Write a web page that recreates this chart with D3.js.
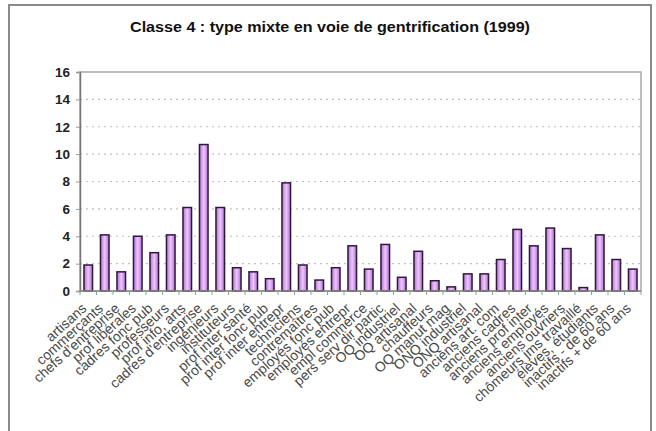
<!DOCTYPE html>
<html>
<head>
<meta charset="utf-8">
<script src="https://cdn.jsdelivr.net/npm/d3@7"></script>
<style>
  html, body { margin: 0; padding: 0; background: #fff; }
  svg { display: block; font-family: "Liberation Sans", Arial, sans-serif; }
</style>
</head>
<body>
<svg id="chart" width="656" height="431"></svg>
<script>
const title = "Classe 4 : type mixte en voie de gentrification (1999)";
const categories = [
  "artisans", "commerçants", "chefs d'entreprise", "prof libérales", "cadres fonc pub",
  "professeurs", "prof info, arts", "cadres d'entreprise", "ingénieurs", "instituteurs",
  "prof inter santé", "prof inter fonc pub", "prof inter entrepr", "techniciens", "contremaîtres",
  "employés fonc pub", "employés entrepr", "empl commerce", "pers serv dir partic", "OQ industriel",
  "OQ artisanal", "chauffeurs", "OQ manut mag", "ONQ industriel", "ONQ artisanal",
  "anciens art. com", "anciens cadres", "anciens prof inter", "anciens employés", "anciens ouvriers",
  "chômeurs jms travaillé", "élèves, étudiants", "inactifs - de 60 ans", "inactifs + de 60 ans"
];
const values = [
  1.9, 4.1, 1.4, 4.0, 2.8,
  4.1, 6.1, 10.7, 6.1, 1.7,
  1.4, 0.9, 7.9, 1.9, 0.8,
  1.7, 3.3, 1.6, 3.4, 1.0,
  2.9, 0.75, 0.3, 1.25, 1.25,
  2.3, 4.5, 3.3, 4.6, 3.1,
  0.25, 4.1, 2.3, 1.6
];
const yTicks = [0, 2, 4, 6, 8, 10, 12, 14, 16];

const svg = d3.select("#chart");
const plot = { left: 80, top: 72, right: 641, bottom: 291 };

// outer frame
svg.append("rect").attr("x", 9).attr("y", 5).attr("width", 642).attr("height", 440)
  .attr("fill", "#fff").attr("stroke", "#8a8a8a").attr("stroke-width", 2);

// gradient for bars
const defs = svg.append("defs");
const grad = defs.append("linearGradient").attr("id", "barGrad")
  .attr("x1", "0%").attr("x2", "100%").attr("y1", "0%").attr("y2", "0%");
grad.append("stop").attr("offset", "0%").attr("stop-color", "#b070d4");
grad.append("stop").attr("offset", "50%").attr("stop-color", "#efc6ff");
grad.append("stop").attr("offset", "100%").attr("stop-color", "#b070d4");

// title
svg.append("text").attr("x", 330).attr("y", 32).attr("text-anchor", "middle")
  .attr("font-size", 14).attr("font-weight", "bold").attr("fill", "#111")
  .attr("textLength", 400).attr("lengthAdjust", "spacingAndGlyphs")
  .text(title);

const x = d3.scaleBand().domain(categories).range([plot.left, plot.right])
  .paddingInner(0.48).paddingOuter(0.24);
const y = d3.scaleLinear().domain([0, 16]).range([plot.bottom, plot.top]);

// plot border (top/right)
svg.append("rect").attr("x", plot.left).attr("y", plot.top)
  .attr("width", plot.right - plot.left).attr("height", plot.bottom - plot.top)
  .attr("fill", "none").attr("stroke", "#a8a8a8").attr("stroke-width", 1.5);

// gridlines
svg.append("g").selectAll("line").data(yTicks.filter(d => d > 0 && d < 16)).join("line")
  .attr("x1", plot.left).attr("x2", plot.right)
  .attr("y1", d => y(d)).attr("y2", d => y(d))
  .attr("stroke", "#c0c0c0").attr("stroke-width", 1.2).attr("stroke-dasharray", "2,4");

// y axis
const yAxis = d3.axisLeft(y).tickValues(yTicks).tickSize(4).tickPadding(6).tickFormat(d3.format("d"));
const gy = svg.append("g").attr("transform", `translate(${plot.left},0)`).call(yAxis);
gy.select(".domain").attr("stroke", "#777").attr("stroke-width", 1.5);
gy.selectAll(".tick line").attr("stroke", "#999");
gy.selectAll(".tick text").attr("font-size", 13.5).attr("font-weight", "bold")
  .attr("fill", "#222").attr("font-family", "Liberation Sans, Arial, sans-serif");

// bars
svg.append("g").selectAll("rect").data(values).join("rect")
  .attr("x", (d, i) => x(categories[i]))
  .attr("y", d => y(d))
  .attr("width", x.bandwidth())
  .attr("height", d => y(0) - y(d))
  .attr("fill", "url(#barGrad)")
  .attr("stroke", "#2e1a36").attr("stroke-width", 1.5);

// x axis line + ticks at band boundaries
svg.append("line").attr("x1", plot.left).attr("x2", plot.right)
  .attr("y1", plot.bottom).attr("y2", plot.bottom)
  .attr("stroke", "#888").attr("stroke-width", 1.5);
const step = x.step();
const boundaries = d3.range(categories.length + 1).map(i => plot.left + i * step);
svg.append("g").selectAll("line").data(boundaries).join("line")
  .attr("x1", d => d).attr("x2", d => d)
  .attr("y1", plot.bottom).attr("y2", plot.bottom + 4)
  .attr("stroke", "#999");

// x labels
svg.append("g").selectAll("text").data(categories).join("text")
  .attr("transform", d => `translate(${x(d) + x.bandwidth() / 2 - 4},${plot.bottom + 15}) rotate(-42)`)
  .attr("text-anchor", "end")
  .attr("dy", "0.35em")
  .attr("font-size", 14)
  .attr("fill", "#4a4a4a")
  .text(d => d);
</script>
</body>
</html>
